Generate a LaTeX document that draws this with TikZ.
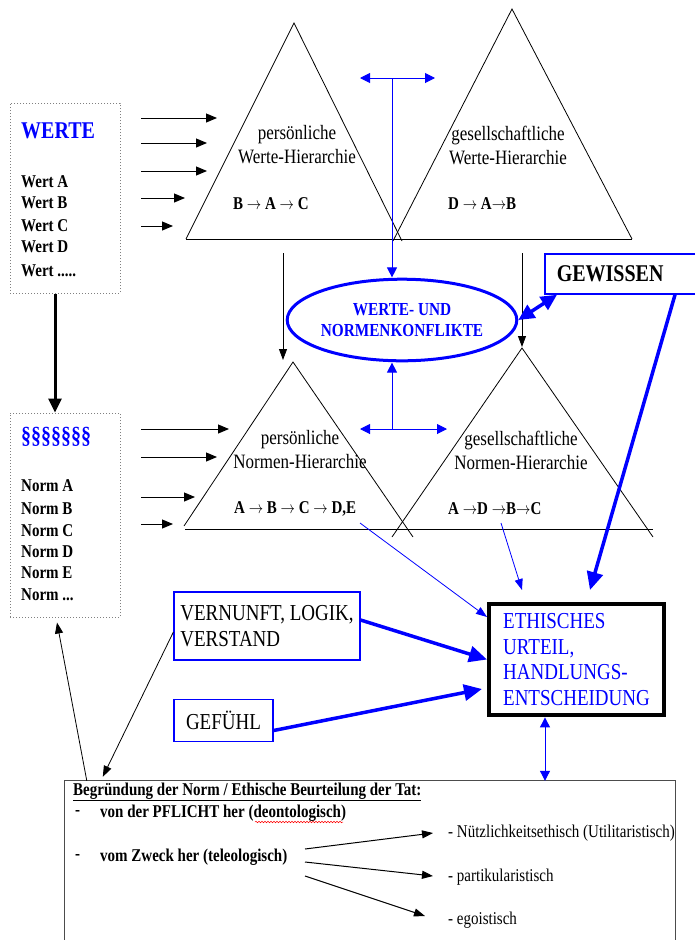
\documentclass[tikz,border=0pt]{standalone}
\usepackage{fontspec}
\setmainfont{Liberation Serif}
\usetikzlibrary{arrows.meta,shapes.geometric,decorations.pathmorphing}

\newcommand{\ra}{\ensuremath{\rightarrow}}

\begin{document}
\begin{tikzpicture}[x=1pt,y=-1pt]

\tikzset{stretch/.style = {yscale=1.2, transform shape},
         dotbox/.style = {draw=gray, dotted, line width=1pt, minimum width=110pt, inner sep=0pt},
         listhead/.style = {stretch, font=\fontsize{20}{24}\selectfont\bfseries, text=blue, anchor=west, inner sep=0pt},
         listitem/.style = {stretch, font=\fontsize{15}{18}\selectfont\bfseries, anchor=west, inner sep=0pt},
         hier/.style = {stretch, font=\fontsize{17}{20}\selectfont, align=center, inner sep=0pt},
         rank/.style = {stretch, font=\fontsize{15}{18}\selectfont\bfseries, anchor=west, inner sep=0pt},
         tri/.style = {line width=.8pt},
         feed/.style = {line width=1pt, -{Triangle[length=11pt,width=9pt]}},
         drop/.style = {line width=.8pt, -{Triangle[length=11pt,width=8pt]}},
         heavy/.style = {line width=3pt, -{Triangle[length=14pt,width=13pt]}},
         thinblue/.style = {blue, line width=.8pt, -{Triangle[length=11pt,width=8pt]}},
         twoway/.style = {blue, line width=1pt, {Triangle[length=10pt,width=10pt]}-{Triangle[length=10pt,width=10pt]}},
         oneway/.style = {blue, line width=1pt, -{Triangle[length=10pt,width=10pt]}},
         fatblue/.style = {blue, line width=3.5pt, -{Triangle[length=18pt,width=16pt]}},
         fattwo/.style = {blue, line width=3.5pt, {Triangle[length=16pt,width=15pt]}-{Triangle[length=16pt,width=15pt]}},
         bluebox/.style = {stretch, draw=blue, line width=1.2pt, font=\fontsize{19}{21.7}\selectfont, align=left, inner sep=0pt},
         tatline/.style = {stretch, font=\fontsize{15}{18}\selectfont\bfseries, anchor=west, inner sep=0pt},
         tatkind/.style = {stretch, font=\fontsize{15}{18}\selectfont, anchor=west, inner sep=0pt},
         tatarrow/.style = {line width=1pt, -{Triangle[length=11pt,width=8pt]}}}

\useasboundingbox (0,0) rectangle (695,940);

% Werte und Normen
\node[dotbox, minimum height=190pt] (werte) at (65,198) {};
\node[listhead] (wertehead) at (21,131) {WERTE};
\node[listitem] (werta) at (21,182) {Wert A};
\node[listitem] (wertb) at (21,203) {Wert B};
\node[listitem] (wertc) at (21,226) {Wert C};
\node[listitem] (wertd) at (21,247) {Wert D};
\node[listitem] (wertx) at (21,271) {Wert .....};

\node[dotbox, minimum height=204pt] (normen) at (65,515) {};
\node[listhead] (normenhead) at (21,437) {§§§§§§§};
\node[listitem] (norma) at (21,486) {Norm A};
\node[listitem] (normb) at (21,509) {Norm B};
\node[listitem] (normc) at (21,531) {Norm C};
\node[listitem] (normd) at (21,552) {Norm D};
\node[listitem] (norme) at (21,573) {Norm E};
\node[listitem] (normx) at (21,595) {Norm ...};

\draw[heavy] ([xshift=-10pt]werte.south) -- ([xshift=-10pt]normen.north);

\foreach \y/\tip [count=\i] in {118/217, 143/207, 171/207, 198/185, 226/173} {
  \coordinate (ws\i) at (141,\y);
  \coordinate (wt\i) at (\tip,\y);
  \draw[feed] (ws\i) -- (wt\i);
}
\foreach \y/\tip [count=\i] in {429/229, 457/217, 497/195, 524/173} {
  \coordinate (ns\i) at (141,\y);
  \coordinate (nt\i) at (\tip,\y);
  \draw[feed] (ns\i) -- (nt\i);
}

% Hierarchien
\draw[tri] (186,239) -- (294,23) -- (402,241);
\draw[tri] (393,241) -- (512,9) -- (632,239);
\draw[tri] (186,239) -- (632,239);
\node[hier] (pwh) at (297,145) {persönliche\\Werte-Hierarchie};
\node[hier] (gwh) at (508,145) {gesellschaftliche\\Werte-Hierarchie};
\node[rank] (pwr) at (233,204) {B \ra\ A \ra\ C};
\node[rank] (gwr) at (448,204) {D \ra\ A\ra B};

\draw[tri] (184,526) -- (293,362) -- (413,537);
\draw[tri] (392,537) -- (522,348) -- (653,537);
\draw[tri] (185,529) -- (653,529);
\node[hier] (pnh) at (300,450) {persönliche\\Normen-Hierarchie};
\node[hier] (gnh) at (521,450) {gesellschaftliche\\Normen-Hierarchie};
\node[rank] (pnr) at (234,509) {A \ra\ B \ra\ C \ra\ D,E};
\node[rank] (gnr) at (448,509) {A \ra D \ra B\ra C};

\coordinate (ptop) at (283,253);
\coordinate (pbot) at (283,360);
\coordinate (gtop) at (522,253);
\coordinate (gbot) at (522,347);
\draw[drop] (ptop) -- (pbot);
\draw[drop] (gtop) -- (gbot);

% Konflikte
\node[stretch, ellipse, draw=blue, line width=3pt, minimum width=216pt, minimum height=68pt, inner sep=0pt,
      text=blue, font=\fontsize{15.3}{17.5}\selectfont\bfseries, align=center] (konflikt) at (402,320) {WERTE- UND\\NORMENKONFLIKTE};

\coordinate (wl) at (360,78);
\coordinate (wr) at (435,78);
\coordinate (wm) at (392,78);
\draw[twoway] (wl) -- (wr);
\draw[oneway] (wm) -- (wm |- konflikt.north);

\coordinate (nl) at (360,429);
\coordinate (nr) at (447,429);
\coordinate (nm) at (392,429);
\draw[twoway] (nl) -- (nr);
\draw[oneway] (nm) -- (nm |- konflikt.south);

\node[stretch, draw=blue, line width=1.5pt, anchor=north west, minimum width=165pt, minimum height=33.3pt,
      inner xsep=12pt, text width=141pt, font=\fontsize{20}{24}\selectfont\bfseries] (gewissen) at (544,253) {GEWISSEN};
\draw[fattwo] ([xshift=13pt]gewissen.south west) -- (konflikt.east);

% Urteil
\node[stretch, draw, line width=4pt, minimum width=175pt, minimum height=92.5pt, inner sep=0pt, text=blue,
      font=\fontsize{19}{21.3}\selectfont, align=left] (urteil) at (576.5,659.5) {ETHISCHES\\URTEIL,\\HANDLUNGS-\\ENTSCHEIDUNG};

\node[bluebox, minimum width=186pt, minimum height=56.7pt] (vernunft) at (267,626) {VERNUNFT, LOGIK,\\VERSTAND};
\node[bluebox, minimum width=99pt, minimum height=35pt] (gefuehl) at (223.5,720.5) {GEFÜHL};

\coordinate (pnout) at (360,523);
\coordinate (pnin) at (487,617);
\coordinate (gnout) at (501,523);
\coordinate (gnin) at (522,590);
\coordinate (gwin) at (590,590);
\coordinate (gfin) at (482,689);
\draw[thinblue] (pnout) -- (pnin);
\draw[thinblue] (gnout) -- (gnin);
\draw[fatblue] ([xshift=131pt]gewissen.south west) -- (gwin);
\draw[fatblue] ([yshift=6pt]vernunft.east) -- (urteil.west);
\draw[fatblue] ([yshift=-10pt]gefuehl.east) -- (gfin);

% Begruendung
\node[minimum width=610pt, minimum height=159pt, inner sep=0pt] (begr) at (370,860.5) {};
\draw[line width=1pt, gray!60!black] (begr.south west) -- (begr.north west) -- (begr.north east) -- (begr.south east);
\draw[twoway] ([xshift=-31.5pt]urteil.south) -- ([xshift=-31.5pt]urteil.south |- begr.north);
\draw[drop] ([xshift=22pt]begr.north west) -- ([xshift=-8pt,yshift=-5pt]normen.south);
\draw[drop] ([yshift=-6pt]vernunft.west) -- ([xshift=38pt,yshift=4pt]begr.north west);

\node[tatline] (tathead) at (73,792) {\underline{Begründung der Norm / Ethische Beurteilung der Tat:}};
\node[tatline] (dash1) at (75,813) {-};
\node[tatline] (pflicht) at (100,813) {von der PFLICHT her (deontologisch)};
\node[tatline] (dash2) at (75,857) {-};
\node[tatline] (zweck) at (100,857) {vom Zweck her (teleologisch)};
\draw[red, line width=.5pt, decorate, decoration={snake, amplitude=.8pt, segment length=3pt}] (255,822) -- (343,822);

\node[tatkind] (nutzen) at (448,833) {- Nützlichkeitsethisch (Utilitaristisch)};
\node[tatkind] (partikel) at (448,877) {- partikularistisch};
\node[tatkind] (ego) at (448,920) {- egoistisch};

\coordinate (z1) at (305,849);
\coordinate (z2) at (305,862);
\coordinate (z3) at (305,876);
\coordinate (k1) at (433,833);
\coordinate (k2) at (433,876);
\coordinate (k3) at (425,916);
\draw[tatarrow] (z1) -- (k1);
\draw[tatarrow] (z2) -- (k2);
\draw[tatarrow] (z3) -- (k3);

\end{tikzpicture}
\end{document}
